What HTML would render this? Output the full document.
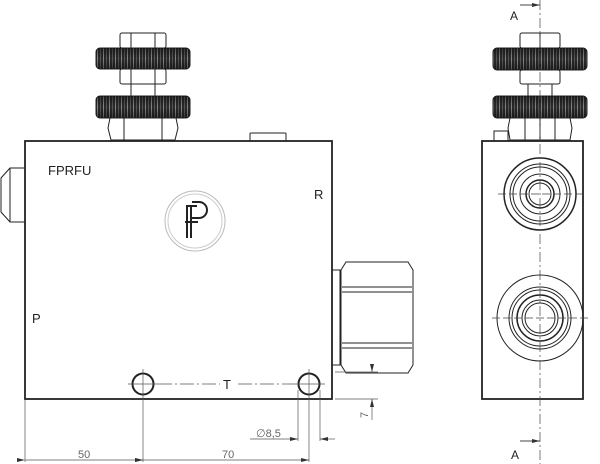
<!DOCTYPE html>
<html><head><meta charset="utf-8"><style>body{margin:0;background:#fff}svg{display:block}text{font-family:"Liberation Sans",sans-serif}</style></head><body>
<svg width="600" height="464" viewBox="0 0 600 464" xmlns="http://www.w3.org/2000/svg">
<defs>
<pattern id="kn" width="6" height="10" patternUnits="userSpaceOnUse">
<rect width="6" height="10" fill="#2a2a2a"/><rect x="1" width="1" height="10" fill="#888"/><rect x="4" width="0.8" height="10" fill="#666"/>
</pattern>
<linearGradient id="shade" x1="0" x2="0" y1="0" y2="1"><stop offset="0" stop-color="#000" stop-opacity="0.4"/><stop offset="0.5" stop-color="#000" stop-opacity="0"/><stop offset="1" stop-color="#000" stop-opacity="0.4"/></linearGradient>
<marker id="ar" markerWidth="8" markerHeight="6" refX="8" refY="3" orient="auto" markerUnits="userSpaceOnUse"><path d="M0,1 L8,3 L0,5z" fill="#333"/></marker>
</defs>
<g fill="none" stroke="#222" stroke-width="1">
<rect x="120" y="33" width="46" height="15" rx="2" fill="#fff"/>
<line x1="131" y1="33" x2="131" y2="48"/><line x1="155" y1="33" x2="155" y2="48"/>
<rect x="96" y="48" width="94" height="21" rx="4" fill="url(#kn)"/>
<rect x="96" y="48" width="94" height="21" rx="4" fill="url(#shade)" stroke="none"/>
<rect x="120" y="69" width="46" height="15" rx="2" fill="#fff"/>
<line x1="131" y1="69" x2="131" y2="84"/><line x1="155" y1="69" x2="155" y2="84"/>
<line x1="131" y1="84" x2="131" y2="96"/><line x1="155" y1="84" x2="155" y2="96"/>
<rect x="96" y="96" width="94" height="22" rx="4" fill="url(#kn)"/>
<rect x="96" y="96" width="94" height="22" rx="4" fill="url(#shade)" stroke="none"/>
<path d="M110,118 H176 L178,128 L175,140 H111 L108,128 Z" fill="#fff"/>
<line x1="124" y1="118" x2="124" y2="140"/><line x1="162" y1="118" x2="162" y2="140"/>
<rect x="250" y="133" width="36" height="8" rx="1"/>
<rect x="25" y="141" width="307" height="258" stroke-width="1.8"/>
<path d="M25,168 H10 L1,178 V212 L10,222 H25"/><line x1="10" y1="168" x2="10" y2="222"/>
<rect x="332" y="270" width="8" height="95"/>
<path d="M346,262 H408 L413,270 V365 L408,373 H346 L341,365 V270 Z" fill="#fff"/>
<line x1="342" y1="287" x2="412" y2="287"/><line x1="342" y1="292" x2="412" y2="292"/>
<line x1="342" y1="343" x2="412" y2="343"/><line x1="342" y1="348" x2="412" y2="348"/>
<circle cx="195" cy="221" r="30" stroke="#bbb"/><circle cx="195" cy="221" r="27" stroke="#ccc"/>
<circle cx="143" cy="384" r="10.5" stroke-width="2"/><circle cx="309" cy="384" r="10.5" stroke-width="2"/>
</g>
<g stroke="#555" stroke-width="0.7" fill="none">
<line x1="128" y1="384" x2="158" y2="384"/><line x1="143" y1="369" x2="143" y2="462"/>
<line x1="294" y1="384" x2="325" y2="384"/><line x1="309" y1="369" x2="309" y2="462"/>
<line x1="158" y1="384" x2="220" y2="384" stroke-dasharray="14,3,2,3"/>
<line x1="238" y1="384" x2="294" y2="384" stroke-dasharray="14,3,2,3"/>
<line x1="25" y1="400" x2="25" y2="462"/>
<line x1="25" y1="460" x2="143" y2="460" marker-start="url(#ar)" marker-end="url(#ar)"/>
<line x1="143" y1="460" x2="309" y2="460" marker-start="url(#ar)" marker-end="url(#ar)"/>
<line x1="298" y1="390" x2="298" y2="441"/><line x1="320" y1="390" x2="320" y2="441"/>
<line x1="250" y1="439" x2="298" y2="439" marker-end="url(#ar)"/>
<line x1="335" y1="439" x2="320" y2="439" marker-end="url(#ar)"/>
<line x1="335" y1="372" x2="378" y2="372"/><line x1="335" y1="399" x2="378" y2="399"/>
<line x1="372" y1="365" x2="372" y2="372" marker-end="url(#ar)"/>
<line x1="372" y1="420" x2="372" y2="399" marker-end="url(#ar)"/>
</g>
<text x="48" y="175" font-size="13" fill="#222">FPRFU</text>
<text x="314" y="199" font-size="13" fill="#222">R</text>
<text x="32" y="323" font-size="13" fill="#222">P</text>
<text x="223" y="389" font-size="13" fill="#222">T</text>
<text x="78" y="458" font-size="11" fill="#666">50</text>
<text x="222" y="458" font-size="11" fill="#666">70</text>
<text x="256" y="437" font-size="11" fill="#666">∅8,5</text>
<text x="0" y="0" font-size="11" fill="#666" transform="translate(368,418) rotate(-90)">7</text>
<g stroke="#222" stroke-width="2" fill="none">
<path d="M187,238 V206 H197"/><path d="M191,238 V206"/><path d="M185,222 H198"/>
<path d="M192,202 H199 A8,8 0 0 1 199,218 H192"/>
</g>
<g fill="none" stroke="#222" stroke-width="1">
<rect x="520" y="33" width="40" height="15" rx="2" fill="#fff"/>
<line x1="540" y1="33" x2="540" y2="48"/>
<rect x="493" y="48" width="94" height="22" rx="4" fill="url(#kn)"/>
<rect x="493" y="48" width="94" height="22" rx="4" fill="url(#shade)" stroke="none"/>
<rect x="520" y="70" width="40" height="14" rx="2" fill="#fff"/>
<line x1="528" y1="84" x2="528" y2="96"/><line x1="552" y1="84" x2="552" y2="96"/>
<rect x="493" y="96" width="94" height="22" rx="4" fill="url(#kn)"/>
<rect x="493" y="96" width="94" height="22" rx="4" fill="url(#shade)" stroke="none"/>
<path d="M510,118 H570 L572,128 L570,140 H510 L508,128 Z" fill="#fff"/>
<line x1="525" y1="118" x2="525" y2="140"/><line x1="540" y1="118" x2="540" y2="140"/><line x1="555" y1="118" x2="555" y2="140"/>
<rect x="494" y="131" width="14" height="10"/>
<rect x="482" y="141" width="101" height="258" stroke-width="1.8"/>
<circle cx="540" cy="194" r="36" stroke-width="1.5"/><circle cx="540" cy="194" r="30"/><circle cx="540" cy="194" r="27"/><circle cx="540" cy="194" r="20"/><circle cx="540" cy="194" r="14" stroke-width="1.5"/><circle cx="540" cy="194" r="11"/>
<circle cx="540" cy="318" r="43"/><circle cx="540" cy="318" r="31"/><circle cx="540" cy="318" r="28"/><circle cx="540" cy="318" r="23" stroke-width="1.5"/><circle cx="540" cy="318" r="18"/><circle cx="540" cy="318" r="15"/>
</g>
<g stroke="#444" stroke-width="0.7" fill="none">
<line x1="540" y1="0" x2="540" y2="464" stroke-dasharray="10,3,2,3"/>
<line x1="498" y1="194" x2="582" y2="194" stroke-dasharray="8,3"/>
<line x1="492" y1="318" x2="590" y2="318" stroke-dasharray="8,3"/>
<line x1="520" y1="5" x2="540" y2="5" marker-end="url(#ar)" stroke-width="1"/>
<line x1="520" y1="441" x2="540" y2="441" marker-end="url(#ar)" stroke-width="1"/>
</g>
<text x="510" y="20" font-size="12" fill="#222">A</text>
<text x="511" y="459" font-size="12" fill="#222">A</text>
</svg>
</body></html>
